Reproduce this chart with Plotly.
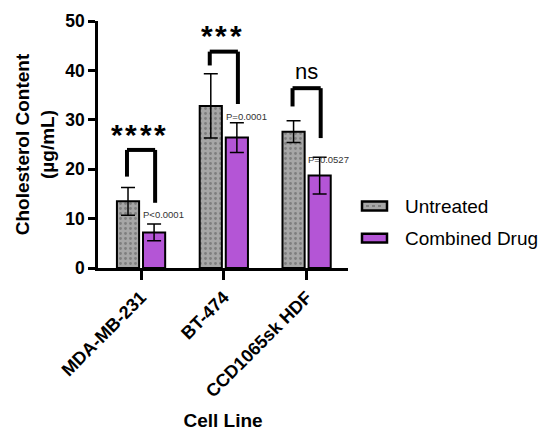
import plotly.graph_objects as go

categories = ["MDA-MB-231", "BT-474", "CCD1065sk HDF"]
untreated = [13.5, 32.8, 27.6]
untreated_err = [2.8, 6.5, 2.2]
combined = [7.2, 26.4, 18.7]
combined_err = [1.7, 3.0, 3.7]
stars = ["****", "***", "ns"]
pvals = ["P<0.0001", "P=0.0001", "P=0.0527"]
# bracket: (top, left leg bottom, right leg bottom, star label y, p label y)
br_top = [23.9, 43.8, 36.4]
br_left = [18.5, 41.0, 32.7]
br_right = [13.2, 33.2, 26.3]
star_y = [27.6, 47.6, 39.8]
p_y = [10.9, 30.6, 22.0]
series_names = ["Untreated", "Combined Drug"]
series_colors = ["#a6a6a6", "#b455d6"]

FONT = "Liberation Sans, Arial, sans-serif"

fig = go.Figure()
fig.add_trace(go.Bar(
    name=series_names[0], x=list(range(3)), y=untreated,
    error_y=dict(type="data", array=untreated_err, color="black", thickness=1.5, width=7),
    marker=dict(color=series_colors[0], line=dict(color="black", width=2),
                pattern=dict(shape=".", fgcolor="#555555", bgcolor=series_colors[0], size=5, solidity=0.25)),
))
fig.add_trace(go.Bar(
    name=series_names[1], x=list(range(3)), y=combined,
    error_y=dict(type="data", array=combined_err, color="black", thickness=1.5, width=7),
    marker=dict(color=series_colors[1], line=dict(color="black", width=2)),
))

off = 0.17
for i in range(3):
    xl, xr = i - off, i + off
    fig.add_shape(type="line", x0=xl, x1=xl, y0=br_left[i], y1=br_top[i], xref="x", yref="y",
                  line=dict(color="black", width=4))
    fig.add_shape(type="line", x0=xl, x1=xr, y0=br_top[i], y1=br_top[i], xref="x", yref="y",
                  line=dict(color="black", width=4))
    fig.add_shape(type="line", x0=xr, x1=xr, y0=br_top[i], y1=br_right[i], xref="x", yref="y",
                  line=dict(color="black", width=4))
    if stars[i] == "ns":
        fig.add_annotation(x=i, y=star_y[i], text=stars[i], showarrow=False, xref="x", yref="y",
                           font=dict(family=FONT, size=22, color="black"))
    else:
        n = len(stars[i])
        for k in range(n):
            fig.add_annotation(x=i - 0.03, y=star_y[i], text="<b>*</b>", showarrow=False,
                               xref="x", yref="y", yshift=-3, xshift=(k - (n - 1) / 2) * 14.5,
                               font=dict(family=FONT, size=30, color="black"))
    fig.add_annotation(x=i + 0.27, y=p_y[i], text=pvals[i], showarrow=False, xref="x", yref="y",
                       font=dict(family=FONT, size=9.5, color="#333333"))

# custom legend
leg_y = [0.251, 0.121]
for j in range(2):
    fig.add_shape(type="rect", xref="paper", yref="paper",
                  x0=1.056, x1=1.156, y0=leg_y[j] - 0.018, y1=leg_y[j] + 0.018,
                  fillcolor=series_colors[j], line=dict(color="black", width=2.5))
    if j == 0:
        fig.add_shape(type="line", xref="paper", yref="paper",
                      x0=1.072, x1=1.144, y0=leg_y[j], y1=leg_y[j],
                      line=dict(color="#555555", width=1.2, dash="dot"))
    fig.add_annotation(xref="paper", yref="paper", x=1.22, y=leg_y[j],
                       xanchor="left", yanchor="middle",
                       text=series_names[j], showarrow=False,
                       font=dict(family=FONT, size=19, color="black"))

fig.update_layout(
    width=548, height=431,
    margin=dict(l=90, r=208, t=13, b=171),
    plot_bgcolor="white", paper_bgcolor="white",
    barmode="group", bargap=0.37, bargroupgap=0.15,
    font=dict(family=FONT, color="black"),
    showlegend=False,
    xaxis=dict(
        automargin=False,
        range=[-0.52, 2.5], tickmode="array", tickvals=list(range(3)),
        ticktext=["<b>" + c + "</b>" for c in categories], tickangle=-45,
        tickfont=dict(family=FONT, size=18, color="black"),
        showline=True, linecolor="black", linewidth=2.5,
        ticks="outside", ticklen=9, tickwidth=2.5, tickcolor="black",
        showgrid=False, zeroline=False,
        title=dict(text="<b>Cell Line</b>", font=dict(family=FONT, size=19, color="black"), standoff=14),
    ),
    yaxis=dict(
        automargin=False,
        range=[0, 50], tickvals=[0, 10, 20, 30, 40, 50],
        ticktext=["<b>%d</b>" % v for v in [0, 10, 20, 30, 40, 50]],
        tickfont=dict(family=FONT, size=17.5, color="black"),
        showline=True, linecolor="black", linewidth=2.5,
        ticks="outside", ticklen=7, tickwidth=2.5, tickcolor="black",
        showgrid=False, zeroline=False,
        title=dict(text="<b>Cholesterol Content<br>(µg/mL)</b>",
                   font=dict(family=FONT, size=19, color="black"), standoff=6),
    ),
)

fig.write_html("out.html")
